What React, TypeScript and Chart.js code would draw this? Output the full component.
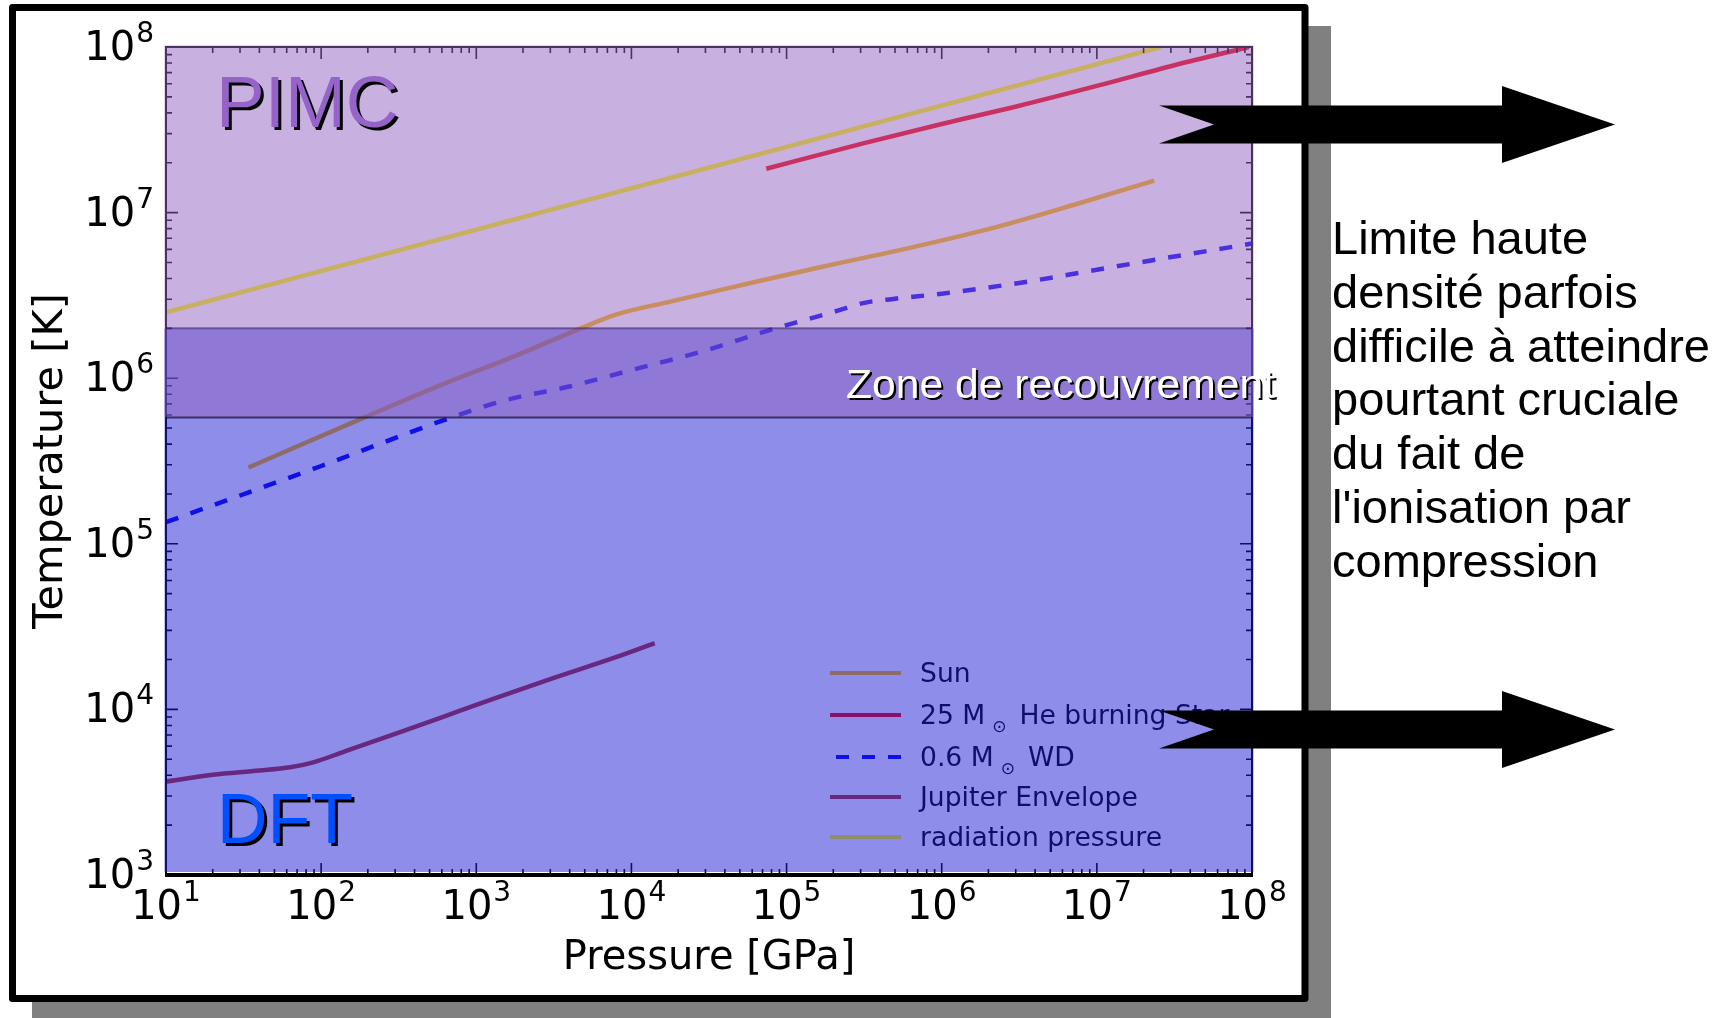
import React, { useEffect, useRef } from 'react';
import { Chart, registerables } from 'chart.js';

Chart.register(...registerables);

// ---------- data (pressure in GPa, temperature in K) ----------
const sunPressure = [34, 195, 646, 1738, 4467, 7943, 17783, 45709, 169824, 645654, 1995262, 7413102, 23442288];
const sunTemperature = [2.89e5, 5.86e5, 9.4e5, 1.35e6, 1.96e6, 2.42e6, 2.9e6, 3.56e6, 4.71e6, 6.17e6, 7.94e6, 1.127e7, 1.56e7];

const heStarPressure = [74000, 316228, 1e6, 3162278, 1e7, 31622777, 95499259];
const heStarTemperature = [1.84e7, 2.63e7, 3.43e7, 4.42e7, 5.82e7, 7.76e7, 1.0e8];

const wdPressure = [10, 100, 631, 1585, 3981, 1e4, 28184, 77625, 199526, 316228, 501187, 1e6, 3162278, 1e7, 31622777, 1e8];
const wdTemperature = [1.35e5, 2.95e5, 5.62e5, 7.41e5, 8.91e5, 1.12e6, 1.445e6, 1.95e6, 2.51e6, 2.85e6, 3.02e6, 3.24e6, 3.76e6, 4.52e6, 5.43e6, 6.5e6];

const jupiterPressure = [10, 20, 40, 63, 89, 141, 316, 631, 1259, 3162, 7943, 14125];
const jupiterTemperature = [3670, 4030, 4270, 4470, 4790, 5560, 7240, 9120, 11480, 15490, 20650, 25120];

const radiationPressure = [10, 2.6e7];
const radiationTemperature = [2.5e6, 1.0e8];

// overlap zone between the two methods (temperature bounds)
const zoneLow = 5.8e5;
const zoneHigh = 2.0e6;

// axis ranges and tick exponents
const xMin = 10;
const xMax = 1e8;
const yMin = 1e3;
const yMax = 1e8;
const xTickExponents = [1, 2, 3, 4, 5, 6, 7, 8];
const yTickExponents = [3, 4, 5, 6, 7, 8];

const legendLabels = ['Sun', '25 M⊙ He burning Star', '0.6 M⊙ WD', 'Jupiter Envelope', 'radiation pressure'];
const sideTextLines = [
  'Limite haute',
  'densité parfois',
  'difficile à atteindre',
  'pourtant cruciale',
  'du fait de',
  "l'ionisation par",
  'compression',
];

const MPL = '"DejaVu Sans", sans-serif';
const SLIDE = '"Liberation Sans", Arial, sans-serif';

const seriesStyles = [
  { color: 'rgb(255,185,0)', dash: [] as number[] },
  { color: 'rgb(255,0,0)', dash: [] as number[] },
  { color: 'rgb(0,0,255)', dash: [13, 13] },
  { color: 'rgb(180,50,40)', dash: [] as number[] },
  { color: 'rgb(255,255,0)', dash: [] as number[] },
];

function pairs(xs: number[], ys: number[]) {
  return xs.map((x, i) => ({ x, y: ys[i] }));
}

function drawPow(ctx: CanvasRenderingContext2D, exp: number, x: number, y: number, align: 'center' | 'right') {
  ctx.font = `40px ${MPL}`;
  const wb = ctx.measureText('10').width;
  ctx.font = `28px ${MPL}`;
  const we = ctx.measureText(String(exp)).width;
  const total = wb + we + 1;
  const x0 = align === 'center' ? x - total / 2 : x - total;
  ctx.textAlign = 'left';
  ctx.textBaseline = 'alphabetic';
  ctx.font = `40px ${MPL}`;
  ctx.fillText('10', x0, y);
  ctx.font = `28px ${MPL}`;
  ctx.fillText(String(exp), x0 + wb + 1, y - 18);
}

function drawArrow(ctx: CanvasRenderingContext2D, cy: number) {
  const tail = 1159, notch = 1214, headBase = 1502, tip = 1615;
  const h = 19, H = 38.5;
  ctx.beginPath();
  ctx.moveTo(tail, cy - h);
  ctx.lineTo(headBase, cy - h);
  ctx.lineTo(headBase, cy - H);
  ctx.lineTo(tip, cy);
  ctx.lineTo(headBase, cy + H);
  ctx.lineTo(headBase, cy + h);
  ctx.lineTo(tail, cy + h);
  ctx.lineTo(notch, cy);
  ctx.closePath();
  ctx.fillStyle = '#000';
  ctx.fill();
}

const decorPlugin = {
  id: 'decor',
  beforeDraw(chart: any) {
    const ctx: CanvasRenderingContext2D = chart.ctx;
    ctx.save();
    ctx.fillStyle = '#ffffff';
    ctx.fillRect(0, 0, chart.width, chart.height);
    ctx.fillStyle = '#808080';
    ctx.fillRect(32, 26, 1299, 1010);
    ctx.fillStyle = '#ffffff';
    ctx.fillRect(12.5, 7.5, 1292.5, 991);
    ctx.lineWidth = 7;
    ctx.lineJoin = 'round';
    ctx.strokeStyle = '#000';
    ctx.strokeRect(12.5, 7.5, 1292.5, 991);
    ctx.restore();
  },
  afterDatasetsDraw(chart: any) {
    const ctx: CanvasRenderingContext2D = chart.ctx;
    const { left, right, top, bottom } = chart.chartArea;
    const xs = chart.scales.x;
    const ys = chart.scales.y;
    ctx.save();

    // spines
    ctx.strokeStyle = '#000';
    ctx.lineWidth = 2;
    ctx.strokeRect(left, top, right - left, bottom - top);

    // ticks (inside, all four sides)
    ctx.lineWidth = 1.6;
    ctx.beginPath();
    for (let i = 0; i < xTickExponents.length; i++) {
      const e = xTickExponents[i];
      for (let k = 1; k <= 9; k++) {
        const v = k * Math.pow(10, e);
        if (v < xMin || v > xMax) continue;
        const px = xs.getPixelForValue(v);
        const len = k === 1 ? 12 : 6;
        ctx.moveTo(px, bottom);
        ctx.lineTo(px, bottom - len);
        ctx.moveTo(px, top);
        ctx.lineTo(px, top + len);
      }
    }
    for (let i = 0; i < yTickExponents.length; i++) {
      const e = yTickExponents[i];
      for (let k = 1; k <= 9; k++) {
        const v = k * Math.pow(10, e);
        if (v < yMin || v > yMax) continue;
        const py = ys.getPixelForValue(v);
        const len = k === 1 ? 12 : 6;
        ctx.moveTo(left, py);
        ctx.lineTo(left + len, py);
        ctx.moveTo(right, py);
        ctx.lineTo(right - len, py);
      }
    }
    ctx.stroke();

    // legend (under the overlays, like the original figure)
    const rowY = [673, 715, 757, 797, 837];
    for (let i = 0; i < legendLabels.length; i++) {
      const st = seriesStyles[i];
      ctx.strokeStyle = st.color;
      ctx.lineWidth = 4;
      ctx.setLineDash(st.dash);
      ctx.lineDashOffset = st.dash.length ? -6 : 0;
      ctx.beginPath();
      ctx.moveTo(830, rowY[i]);
      ctx.lineTo(901, rowY[i]);
      ctx.stroke();
      ctx.setLineDash([]);
      ctx.lineDashOffset = 0;

      ctx.fillStyle = '#000';
      ctx.textAlign = 'left';
      ctx.textBaseline = 'alphabetic';
      const base = rowY[i] + 9;
      const parts = legendLabels[i].split('⊙');
      ctx.font = `26.6px ${MPL}`;
      let x = 920;
      ctx.fillText(parts[0], x, base);
      if (parts.length > 1) {
        x += ctx.measureText(parts[0]).width + 7;
        ctx.font = `17px ${MPL}`;
        ctx.fillText('⊙', x, base + 8);
        x += ctx.measureText('⊙').width + 13;
        ctx.font = `26.6px ${MPL}`;
        ctx.fillText(parts[1].trim(), x, base);
      }
    }

    // method overlays
    const yHi = ys.getPixelForValue(zoneHigh);
    const yLo = ys.getPixelForValue(zoneLow);
    ctx.fillStyle = 'rgba(29,29,213,0.5)';
    ctx.fillRect(left - 1.5, yHi, right - left + 3, bottom - 3 - yHi);
    ctx.fillStyle = 'rgba(145,97,193,0.5)';
    ctx.fillRect(left - 1.5, top - 1.5, right - left + 3, yLo - top + 1.5);

    ctx.lineWidth = 2;
    ctx.strokeStyle = 'rgba(40,20,80,0.5)';
    ctx.beginPath();
    ctx.moveTo(left, yHi);
    ctx.lineTo(right, yHi);
    ctx.stroke();
    ctx.strokeStyle = 'rgba(30,20,60,0.75)';
    ctx.beginPath();
    ctx.moveTo(left, yLo);
    ctx.lineTo(right, yLo);
    ctx.stroke();

    // bottom axis line
    ctx.fillStyle = '#000';
    ctx.fillRect(left - 1, bottom - 2, right - left + 2, 4);

    // region labels
    ctx.textAlign = 'left';
    ctx.textBaseline = 'alphabetic';
    ctx.font = `73px ${SLIDE}`;
    ctx.fillStyle = '#000';
    ctx.fillText('PIMC', 219, 130);
    ctx.fillStyle = 'rgb(150,100,200)';
    ctx.fillText('PIMC', 216, 127);

    ctx.font = `70px ${SLIDE}`;
    ctx.fillStyle = '#000';
    ctx.fillText('DFT', 220, 846);
    ctx.fillStyle = 'rgb(0,80,255)';
    ctx.fillText('DFT', 217, 843);

    ctx.font = `40px ${SLIDE}`;
    const zw = ctx.measureText('Zone de recouvrement').width;
    const sx = 429 / zw;
    ctx.save();
    ctx.translate(846, 398);
    ctx.scale(sx, 1);
    ctx.fillStyle = '#000';
    ctx.fillText('Zone de recouvrement', 2, 2);
    ctx.fillStyle = '#fff';
    ctx.fillText('Zone de recouvrement', 0, 0);
    ctx.restore();

    ctx.restore();
  },
  afterDraw(chart: any) {
    const ctx: CanvasRenderingContext2D = chart.ctx;
    const { left, right, top, bottom } = chart.chartArea;
    const xs = chart.scales.x;
    const ys = chart.scales.y;
    ctx.save();
    ctx.fillStyle = '#000';

    // tick labels
    for (const e of xTickExponents) {
      drawPow(ctx, e, xs.getPixelForValue(Math.pow(10, e)), bottom + 44, 'center');
    }
    for (const e of yTickExponents) {
      drawPow(ctx, e, 154, ys.getPixelForValue(Math.pow(10, e)) + 13, 'right');
    }

    // axis titles
    ctx.textAlign = 'center';
    ctx.textBaseline = 'alphabetic';
    ctx.font = `40px ${MPL}`;
    ctx.fillText('Pressure [GPa]', (left + right) / 2, 969);
    ctx.save();
    ctx.translate(62, (top + bottom) / 2);
    ctx.rotate(-Math.PI / 2);
    ctx.font = `41.5px ${MPL}`;
    ctx.fillText('Temperature [K]', 0, 0);
    ctx.restore();

    // side comment
    ctx.font = `47px ${SLIDE}`;
    ctx.textAlign = 'left';
    for (let i = 0; i < sideTextLines.length; i++) {
      ctx.fillText(sideTextLines[i], 1332, 254 + i * 53.8);
    }

    // arrows
    drawArrow(ctx, 124.5);
    drawArrow(ctx, 729.5);
    ctx.restore();
  },
};

export default function App() {
  const canvasRef = useRef<HTMLCanvasElement | null>(null);

  useEffect(() => {
    const canvas = canvasRef.current;
    if (!canvas) return;
    const mk = (label: string, xs: number[], ys: number[], idx: number, smooth: boolean) => ({
      label,
      data: pairs(xs, ys),
      borderColor: seriesStyles[idx].color,
      backgroundColor: seriesStyles[idx].color,
      borderWidth: 4.5,
      borderDash: seriesStyles[idx].dash,
      pointRadius: 0,
      fill: false,
      cubicInterpolationMode: smooth ? 'monotone' : 'default',
      tension: 0,
      borderCapStyle: 'butt',
    });
    const chart = new Chart(canvas, {
      type: 'line',
      data: {
        datasets: [
          mk(legendLabels[0], sunPressure, sunTemperature, 0, true),
          mk(legendLabels[1], heStarPressure, heStarTemperature, 1, true),
          mk(legendLabels[2], wdPressure, wdTemperature, 2, true),
          mk(legendLabels[3], jupiterPressure, jupiterTemperature, 3, true),
          mk(legendLabels[4], radiationPressure, radiationTemperature, 4, false),
        ] as any,
      },
      options: {
        responsive: false,
        animation: false,
        devicePixelRatio: 1,
        layout: { padding: { left: 166, top: 47, right: 471, bottom: 143 } },
        plugins: {
          legend: { display: false },
          tooltip: { enabled: false },
          title: { display: false },
        },
        scales: {
          x: { type: 'logarithmic', min: xMin, max: xMax, display: false },
          y: { type: 'logarithmic', min: yMin, max: yMax, display: false },
        },
        events: [],
      } as any,
      plugins: [decorPlugin],
    });
    return () => chart.destroy();
  }, []);

  return (
    <div style={{ position: 'fixed', left: 0, top: 0, width: 1723, height: 1018, background: '#fff' }}>
      <canvas ref={canvasRef} width={1723} height={1018} style={{ display: 'block', width: 1723, height: 1018 }} />
    </div>
  );
}
